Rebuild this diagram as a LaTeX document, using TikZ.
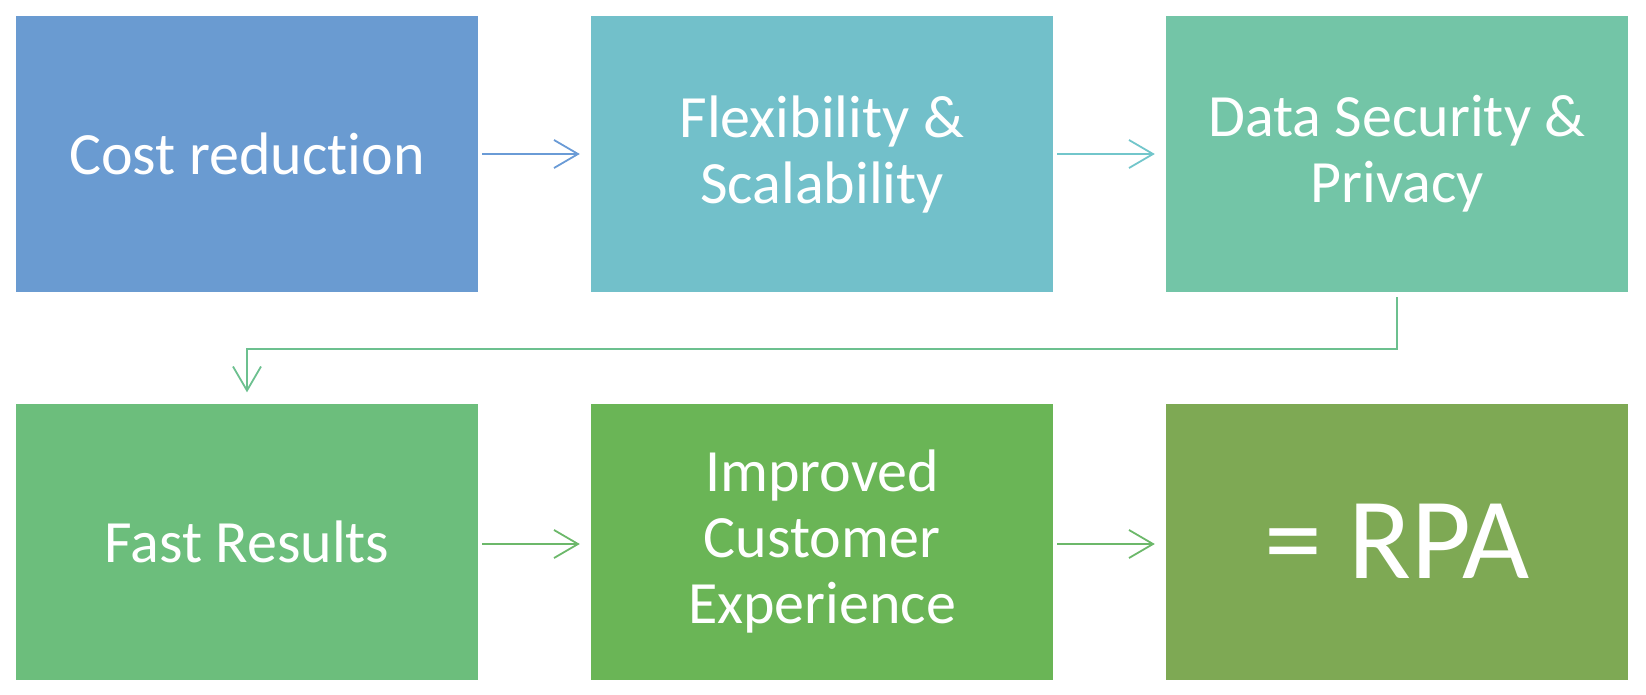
\documentclass[tikz,border=0pt]{standalone}
\usepackage{fontspec}
\setmainfont[RawFeature={-liga}]{Carlito}
\usetikzlibrary{arrows.meta}
\definecolor{cA}{HTML}{6A9BD1}
\definecolor{cB}{HTML}{72C0CA}
\definecolor{cC}{HTML}{73C5A7}
\definecolor{cD}{HTML}{6CBE7C}
\definecolor{cE}{HTML}{6AB556}
\definecolor{cF}{HTML}{7EA954}
\definecolor{aA}{HTML}{6A9BD6}
\definecolor{aB}{HTML}{72C6CB}
\definecolor{aC}{HTML}{6CC08F}
\definecolor{aD}{HTML}{6CB86A}
\tikzset{
  box/.style={minimum width=462pt, minimum height=276pt, inner sep=0pt, align=center,
    text=white, font=\fontsize{60}{66}\selectfont},
  conn/.style={line width=1.8pt, -{Straight Barb[length=24pt,width=28pt,line width=1.8pt]},
    shorten <=4pt, shorten >=11pt},
}
\begin{document}
\begin{tikzpicture}[x=1pt,y=-1pt]
\useasboundingbox (0,0) rectangle (1646,694);
\node[box, fill=cA] (b1) at (247,154) {Cost reduction};
\node[box, fill=cB] (b2) at (822,154) {Flexibility \&\\Scalability};
\node[box, fill=cC] (b3) at (1397,154) {Data Security \&\\Privacy};
\node[box, fill=cD] (b4) at (247,541.5) {Fast Results};
\node[box, fill=cE] (b5) at (822,541.5) {Improved\\Customer\\Experience};
\node[box, fill=cF, font=\fontsize{116}{120}\selectfont] (b6) at (1397,541.5) {= RPA};
\draw[conn, draw=aA] (b1) -- (b2);
\draw[conn, draw=aB] (b2) -- (b3);
\coordinate (e1) at (1397,349);
\coordinate (e2) at (247,349);
\draw[conn, draw=aC, shorten <=5pt] (b3.south) -- (e1) -- (e2) -- (b4.north);
\draw[conn, draw=aD] ([yshift=-2.5pt]b4.east) -- ([yshift=-2.5pt]b5.west);
\draw[conn, draw=aD] ([yshift=-2.5pt]b5.east) -- ([yshift=-2.5pt]b6.west);
\end{tikzpicture}
\end{document}
